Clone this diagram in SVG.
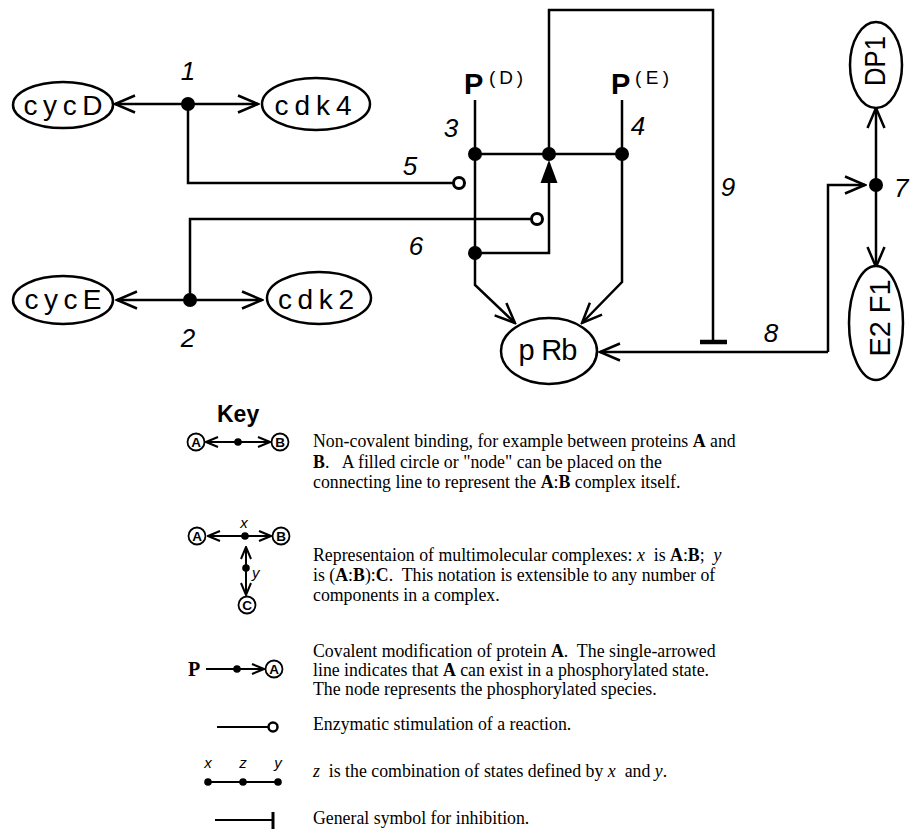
<svg xmlns="http://www.w3.org/2000/svg" width="910" height="829" viewBox="0 0 910 829">
<style>
.ln{fill:none;stroke:#000;stroke-width:2.5;stroke-linejoin:miter}
.lk{fill:none;stroke:#000;stroke-width:2}
.ell{fill:#fff;stroke:#000;stroke-width:2.5}
.dot{fill:#000}
.oc{fill:#fff;stroke:#000;stroke-width:3}
.lbl{font-family:"Liberation Sans",Arial,sans-serif;font-size:28px;fill:#000}
.num{font-family:"Liberation Sans",Arial,sans-serif;font-size:26px;font-style:italic;fill:#000}
.pb{font-family:"Liberation Sans",Arial,sans-serif;font-size:29px;font-weight:bold;fill:#000}
.ps{font-family:"Liberation Sans",Arial,sans-serif;font-size:19px;fill:#000}
.kt{font-family:"Liberation Serif","Times New Roman",serif;font-size:17.8px;fill:#000}
.kh{font-family:"Liberation Sans",Arial,sans-serif;font-size:23px;font-weight:bold;fill:#000}
.cl{font-family:"Liberation Sans",Arial,sans-serif;font-size:13.5px;font-weight:bold;fill:#000}
.ci{fill:#fff;stroke:#000;stroke-width:1.8}
.ki{font-family:"Liberation Sans",Arial,sans-serif;font-size:15px;font-style:italic;fill:#000}
</style>
<defs>
<marker id="arr" markerUnits="userSpaceOnUse" viewBox="0 0 24 20" refX="22" refY="10" markerWidth="24" markerHeight="20" orient="auto">
<path d="M2,1.5 L22,10 L2,18.5" fill="none" stroke="#000" stroke-width="2.5"/>
</marker>
<marker id="arrS" markerUnits="userSpaceOnUse" viewBox="0 0 14 12" refX="13" refY="6" markerWidth="14" markerHeight="12" orient="auto">
<path d="M1,1 L13,6 L1,11" fill="none" stroke="#000" stroke-width="2"/>
</marker>
</defs>

<g id="connectors">
<path class="ln" d="M188,104 H115" marker-end="url(#arr)"/>
<path class="ln" d="M188,104 H258" marker-end="url(#arr)"/>
<path class="ln" d="M190,300 H117" marker-end="url(#arr)"/>
<path class="ln" d="M190,300 H262" marker-end="url(#arr)"/>
<path class="ln" d="M188,104 V183 H453"/>
<circle class="oc" cx="459" cy="183" r="5.5"/>
<path class="ln" d="M190,300 V219 H531"/>
<circle class="oc" cx="537" cy="219" r="5.5"/>
<path class="ln" d="M475,100 V285 L515,323" marker-end="url(#arr)"/>
<path class="ln" d="M622,100 V282 L582,323" marker-end="url(#arr)"/>
<path class="ln" d="M475,154 H622"/>
<path class="ln" d="M549,154 V10 H713 V342"/>
<path class="ln" d="M700,342 H727" style="stroke-width:4.5"/>
<path class="ln" d="M475,253 H549 V182"/>
<polygon points="549,160 540.5,183 557.5,183" fill="#000"/>
<path class="ln" d="M828,352 H600" marker-end="url(#arr)"/>
<path class="ln" d="M828,352 V185 H865" marker-end="url(#arr)"/>
<path class="ln" d="M876,185 V108" marker-end="url(#arr)"/>
<path class="ln" d="M876,185 V267" marker-end="url(#arr)"/>
</g>

<g id="cycD"><ellipse class="ell" cx="63" cy="105" rx="50" ry="23"/><text class="lbl" x="63" y="115" text-anchor="middle" textLength="79" lengthAdjust="spacing">cycD</text></g>
<g id="cdk4"><ellipse class="ell" cx="316" cy="104" rx="54" ry="26"/><text class="lbl" x="313" y="115" text-anchor="middle" textLength="77" lengthAdjust="spacing">cdk4</text></g>
<g id="cycE"><ellipse class="ell" cx="63" cy="300" rx="50" ry="24"/><text class="lbl" x="63" y="309" text-anchor="middle" textLength="77" lengthAdjust="spacing">cycE</text></g>
<g id="cdk2"><ellipse class="ell" cx="319" cy="298" rx="52" ry="26"/><text class="lbl" x="316" y="309" text-anchor="middle" textLength="76" lengthAdjust="spacing">cdk2</text></g>
<g id="pRb"><ellipse class="ell" cx="549" cy="351" rx="48" ry="33"/><text class="lbl" x="548" y="360" text-anchor="middle" style="font-size:29px" textLength="59" lengthAdjust="spacing">p Rb</text></g>
<g id="DP1"><ellipse class="ell" cx="876" cy="65" rx="26" ry="43"/><text class="lbl" transform="translate(885,61) rotate(-90)" text-anchor="middle" style="font-size:29px" textLength="50" lengthAdjust="spacingAndGlyphs">DP1</text></g>
<g id="E2F1"><ellipse class="ell" cx="876" cy="323" rx="27" ry="57"/><text class="lbl" transform="translate(890,318) rotate(-90)" text-anchor="middle" style="font-size:29px" textLength="77" lengthAdjust="spacingAndGlyphs">E2 F1</text></g>

<g id="node1"><circle class="dot" cx="188" cy="104" r="7"/><text class="num" x="188" y="80" text-anchor="middle">1</text></g>
<g id="node2"><circle class="dot" cx="190" cy="300" r="7"/><text class="num" x="188" y="347" text-anchor="middle">2</text></g>
<g id="node3"><circle class="dot" cx="475" cy="154" r="7"/><text class="num" x="451" y="137" text-anchor="middle">3</text></g>
<g id="node4"><circle class="dot" cx="622" cy="154" r="7"/><text class="num" x="638" y="135" text-anchor="middle">4</text></g>
<g id="nodeMid"><circle class="dot" cx="549" cy="154" r="7"/></g>
<g id="node6"><circle class="dot" cx="475" cy="253" r="7"/></g>
<g id="node7"><circle class="dot" cx="876" cy="185" r="7"/><text class="num" x="894" y="197">7</text></g>
<g id="PD"><text class="pb" x="464" y="94">P</text><text class="ps" x="489" y="84" textLength="34" lengthAdjust="spacing">(D)</text></g>
<g id="PE"><text class="pb" x="611" y="94">P</text><text class="ps" x="635" y="84" textLength="34" lengthAdjust="spacing">(E)</text></g>
<g id="labels">
<text class="num" x="410" y="175" text-anchor="middle">5</text>
<text class="num" x="416" y="255" text-anchor="middle">6</text>
<text class="num" x="771" y="342" text-anchor="middle">8</text>
<text class="num" x="728" y="196" text-anchor="middle">9</text>
</g>

<g id="key">
<text class="kh" x="217" y="422">Key</text>
<g id="key1">
<path class="lk" d="M238,442 H206" marker-end="url(#arrS)"/>
<path class="lk" d="M238,442 H270" marker-end="url(#arrS)"/>
<circle class="dot" cx="238" cy="442" r="3.8"/>
<circle class="ci" cx="196" cy="442" r="8.5"/><text class="cl" x="196" y="447" text-anchor="middle">A</text>
<circle class="ci" cx="280" cy="442" r="8.5"/><text class="cl" x="280" y="447" text-anchor="middle">B</text>
<text class="kt" x="313" y="447" xml:space="preserve">Non-covalent binding, for example between proteins <tspan font-weight="bold">A</tspan> and</text>
<text class="kt" x="313" y="468" xml:space="preserve"><tspan font-weight="bold">B</tspan>.   A filled circle or "node" can be placed on the</text>
<text class="kt" x="313" y="488" xml:space="preserve">connecting line to represent the <tspan font-weight="bold">A</tspan>:<tspan font-weight="bold">B</tspan> complex itself.</text>
</g>
<g id="key2">
<path class="lk" d="M245,536 H208" marker-end="url(#arrS)"/>
<path class="lk" d="M245,536 H271" marker-end="url(#arrS)"/>
<circle class="dot" cx="245" cy="536" r="3.8"/>
<text class="ki" x="244" y="528" text-anchor="middle">x</text>
<path class="lk" d="M246,568 V547" marker-end="url(#arrS)"/>
<path class="lk" d="M246,568 V595" marker-end="url(#arrS)"/>
<circle class="dot" cx="246" cy="568" r="3.8"/>
<text class="ki" x="252" y="578">y</text>
<circle class="ci" cx="197" cy="536" r="8.5"/><text class="cl" x="197" y="541" text-anchor="middle">A</text>
<circle class="ci" cx="281" cy="536" r="8.5"/><text class="cl" x="281" y="541" text-anchor="middle">B</text>
<circle class="ci" cx="247" cy="605" r="8.5"/><text class="cl" x="247" y="610" text-anchor="middle">C</text>
<text class="kt" x="313" y="561" xml:space="preserve">Representaion of multimolecular complexes: <tspan font-style="italic">x</tspan>  is <tspan font-weight="bold">A</tspan>:<tspan font-weight="bold">B</tspan>;  <tspan font-style="italic">y</tspan></text>
<text class="kt" x="313" y="581" xml:space="preserve">is (<tspan font-weight="bold">A</tspan>:<tspan font-weight="bold">B</tspan>):<tspan font-weight="bold">C</tspan>.  This notation is extensible to any number of</text>
<text class="kt" x="313" y="601" xml:space="preserve">components in a complex.</text>
</g>
<g id="key3">
<text class="kt" x="188" y="676" font-weight="bold" style="font-size:20px">P</text>
<path class="lk" d="M206,669 H264" marker-end="url(#arrS)"/>
<circle class="dot" cx="237" cy="669" r="3.8"/>
<circle class="ci" cx="274" cy="669" r="8.5"/><text class="cl" x="274" y="674" text-anchor="middle">A</text>
<text class="kt" x="313" y="657" xml:space="preserve">Covalent modification of protein <tspan font-weight="bold">A</tspan>.  The single-arrowed</text>
<text class="kt" x="313" y="676" xml:space="preserve">line indicates that <tspan font-weight="bold">A</tspan> can exist in a phosphorylated state.</text>
<text class="kt" x="313" y="695" xml:space="preserve">The node represents the phosphorylated species.</text>
</g>
<g id="key4">
<path class="lk" d="M217,727 H268"/>
<circle class="oc" cx="273" cy="727" r="4.5" style="stroke-width:2.5"/>
<text class="kt" x="313" y="730">Enzymatic stimulation of a reaction.</text>
</g>
<g id="key5">
<path class="lk" d="M208,782 H278"/>
<circle class="dot" cx="208" cy="782" r="3.8"/>
<circle class="dot" cx="243" cy="782" r="3.8"/>
<circle class="dot" cx="278" cy="782" r="3.8"/>
<text class="ki" x="208" y="768" text-anchor="middle">x</text>
<text class="ki" x="243" y="768" text-anchor="middle">z</text>
<text class="ki" x="278" y="768" text-anchor="middle">y</text>
<text class="kt" x="313" y="777" xml:space="preserve"><tspan font-style="italic">z</tspan>  is the combination of states defined by <tspan font-style="italic">x</tspan>  and <tspan font-style="italic">y</tspan>.</text>
</g>
<g id="key6">
<path class="lk" d="M215,820 H273"/>
<path class="lk" d="M273,812 V829" style="stroke-width:3"/>
<text class="kt" x="313" y="824">General symbol for inhibition.</text>
</g>
</g>
</svg>
